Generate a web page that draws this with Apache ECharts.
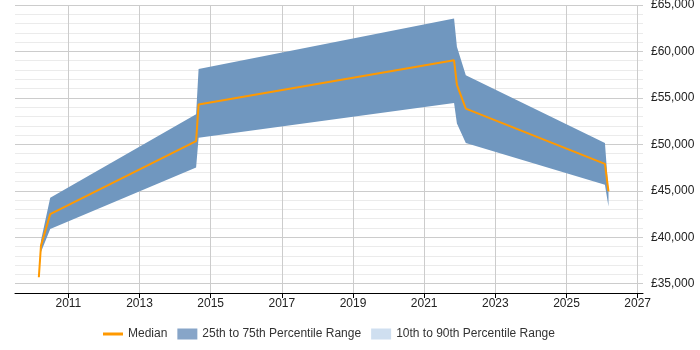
<style>body { margin: 0; }</style>
<div id="chart" style="width:700px;height:350px;"></div>
<script src="https://cdn.jsdelivr.net/npm/echarts@6/dist/echarts.min.js"></script>
<script type="text/javascript">
    // 时间点（小数年份）
    var years = [2010.17, 2010.23, 2010.49, 2014.59, 2014.66, 2021.84, 2021.92, 2022.17, 2026.08, 2026.18];
    // 中位数
    var median = [35700, 39100, 42500, 50350, 54300, 59050, 56400, 53850, 47900, 44950];
    // 25% - 75% 区间
    var p25 = [35700, 38400, 40900, 47500, 50700, 54450, 52250, 50150, 45650, 43300];
    var p75 = [35700, 39650, 44250, 53250, 58100, 63550, 60500, 57450, 50150, 45000];
    // 坐标轴刻度
    var yearTicks = [2011, 2013, 2015, 2017, 2019, 2021, 2023, 2025, 2027];

    var chart = echarts.init(document.getElementById("chart"));

    var font = "Liberation Sans";
    var bandColor = '#7097bf';

    // 区间面积：上沿 + 下沿(倒序) 组成一个多边形
    var renderBand = function (params, api) {
        var pts = [];
        for (var i = 0; i < years.length; i++) pts.push(api.coord([years[i], p75[i]]));
        for (var j = years.length - 1; j >= 0; j--) pts.push(api.coord([years[j], p25[j]]));
        return {
            type: 'polygon',
            shape: { points: pts },
            style: { fill: bandColor }
        };
    };

    var option = {
        animation: false,
        textStyle: { fontFamily: font },
        grid: { left: 15, right: 57, top: 5, bottom: 57, containLabel: false, outerBoundsMode: 'none' },
        legend: {
            left: 103,
            top: 328,
            padding: 0,
            itemWidth: 20,
            itemHeight: 11,
            itemGap: 10,
            textStyle: { fontFamily: font, fontSize: 12, color: '#333' },
            data: [
                { name: 'Median', icon: 'path://M0,4 L20,4 L20,7 L0,7 Z', itemStyle: { color: '#ff9900' } },
                { name: '25th to 75th Percentile Range', icon: 'rect', itemStyle: { color: '#87a5c8' } },
                { name: '10th to 90th Percentile Range', icon: 'rect', itemStyle: { color: '#cfdff0' } }
            ]
        },
        xAxis: {
            type: 'value',
            min: 2009.5,
            max: 2027.15,
            axisLine: { lineStyle: { color: '#000', width: 1 } },
            axisTick: { show: true, length: 5, customValues: yearTicks, lineStyle: { color: '#000' } },
            axisLabel: { customValues: yearTicks, color: '#222', fontSize: 12, margin: 5,
                formatter: function (v) { return String(v); } },
            splitLine: { show: true, lineStyle: { color: '#cccccc' } }
        },
        yAxis: {
            type: 'value',
            position: 'right',
            min: 34000,
            max: 65000,
            interval: 1000,
            axisLine: { show: false },
            axisTick: { show: false },
            axisLabel: {
                color: '#222', fontSize: 12, margin: 8,
                formatter: function (v) {
                    if (v % 5000 !== 0) return '';
                    return '£' + v.toLocaleString('en-GB');
                }
            },
            splitLine: { lineStyle: { color: ['#ebebeb', '#cccccc', '#ebebeb', '#ebebeb', '#ebebeb'] } }
        },
        series: [
            {
                name: '25th to 75th Percentile Range',
                type: 'custom',
                renderItem: renderBand,
                data: [[years[0], p25[0]]],
                itemStyle: { color: '#87a5c8' },
                silent: true,
                z: 2
            },
            {
                name: '10th to 90th Percentile Range',
                type: 'line',
                data: [],
                itemStyle: { color: '#cfdff0' }
            },
            {
                name: 'Median',
                type: 'line',
                data: years.map(function (y, i) { return [y, median[i]]; }),
                symbol: 'none',
                itemStyle: { color: '#ff9900' },
                lineStyle: { color: '#ff9900', width: 2 },
                z: 5
            }
        ]
    };

    chart.setOption(option);
</script>
